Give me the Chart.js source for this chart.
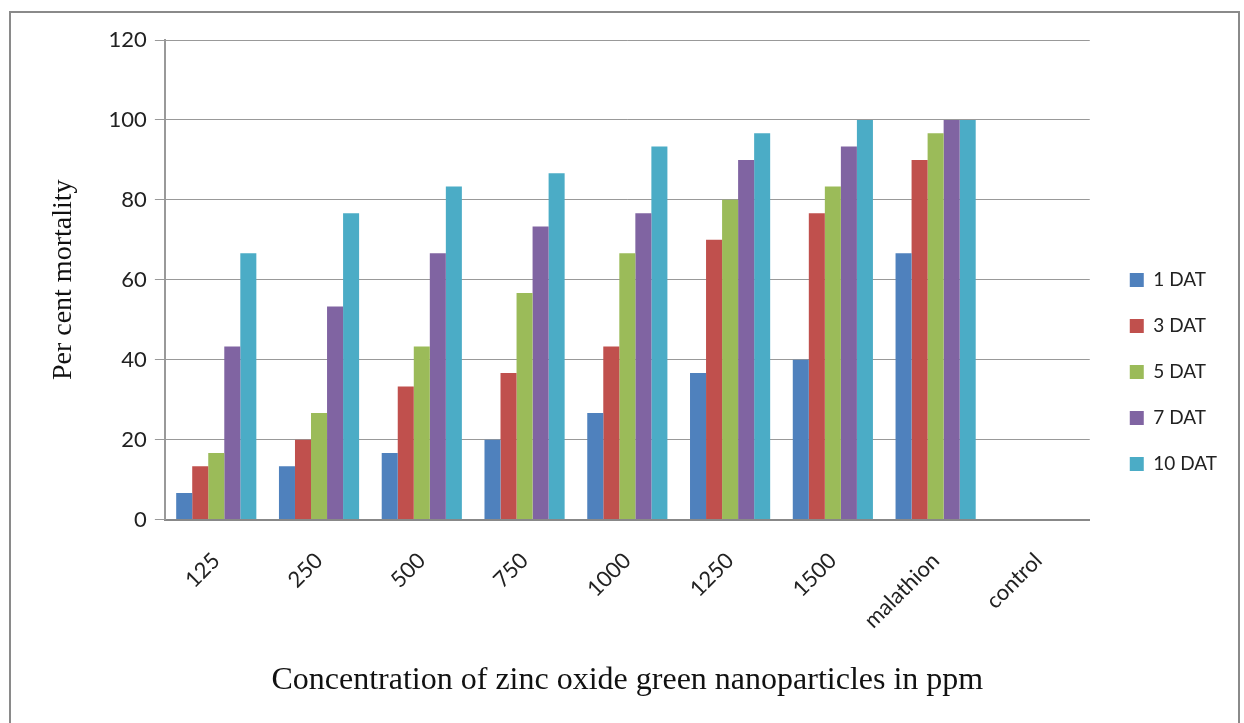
<!DOCTYPE html>
<html>
<head>
<meta charset="utf-8">
<script src="https://cdn.jsdelivr.net/npm/chart.js@4"></script>
<style>
  html, body { margin: 0; padding: 0; background: #fff; }
  #wrap { position: absolute; left: 0; top: 0; width: 1244px; height: 723px; }
</style>
</head>
<body>
<div id="wrap"><canvas id="mortality" width="1244" height="723"></canvas></div>
<script>
const concentrations = ["125", "250", "500", "750", "1000", "1250", "1500", "malathion", "control"];
const dat1 = [6.67, 13.33, 16.67, 20, 26.67, 36.67, 40, 66.67, 0];
const dat3 = [13.33, 20, 33.33, 36.67, 43.33, 70, 76.67, 90, 0];
const dat5 = [16.67, 26.67, 43.33, 56.67, 66.67, 80, 83.33, 96.67, 0];
const dat7 = [43.33, 53.33, 66.67, 73.33, 76.67, 90, 93.33, 100, 0];
const dat10 = [66.67, 76.67, 83.33, 86.67, 93.33, 96.67, 100, 100, 0];

const seriesNames = ["1 DAT", "3 DAT", "5 DAT", "7 DAT", "10 DAT"];
const seriesColors = ["#4F81BD", "#C0504D", "#9BBB59", "#8064A2", "#4BACC6"];

// grey outer frame like the pasted office chart
const frame = {
  id: "frame",
  afterDraw(chart) {
    const c = chart.ctx;
    c.save();
    c.strokeStyle = "#8a8a8a";
    c.lineWidth = 2;
    c.strokeRect(10, 12, 1229, 730);
    c.restore();
  },
};

const ctx = document.getElementById("mortality");

new Chart(ctx, {
  type: "bar",
  data: {
    labels: concentrations,
    datasets: [dat1, dat3, dat5, dat7, dat10].map((d, i) => ({
      label: seriesNames[i],
      data: d,
      backgroundColor: seriesColors[i],
      borderWidth: 0,
      categoryPercentage: 0.78,
      barPercentage: 1,
    })),
  },
  options: {
    responsive: false,
    animation: false,
    layout: { padding: { left: 43, top: 40, right: 17, bottom: 19 } },
    plugins: {
      tooltip: { enabled: false },
      legend: {
        position: "right",
        labels: {
          boxWidth: 14,
          boxHeight: 14,
          padding: 27,
          color: "#222",
          font: { family: "Lato", size: 19 },
        },
      },
    },
    scales: {
      x: {
        grid: { display: false, drawTicks: false },
        border: { color: "#888", width: 2 },
        ticks: {
          minRotation: 45,
          maxRotation: 45,
          padding: 28,
          color: "#222",
          font: { family: "Lato", size: 22 },
        },
        title: {
          display: true,
          text: "Concentration of zinc oxide green nanoparticles in ppm",
          color: "#111",
          font: { family: "Liberation Serif", size: 32 },
          padding: { top: 0 },
        },
      },
      y: {
        min: 0,
        max: 120,
        ticks: {
          stepSize: 20,
          padding: 8,
          color: "#222",
          font: { family: "Lato", size: 22 },
        },
        grid: { color: "#999", tickLength: 10, lineWidth: 1 },
        border: { color: "#999", width: 2 },
        title: {
          display: true,
          text: "Per cent mortality",
          color: "#111",
          font: { family: "Liberation Serif", size: 28 },
          padding: { bottom: 20 },
        },
      },
      // empty spacer between plot and legend
      gap: {
        position: "right",
        grid: { display: false, drawTicks: false },
        border: { display: false },
        ticks: { display: false },
        afterFit: (scale) => { scale.width = 13; },
      },
    },
  },
  plugins: [frame],
});
</script>
</body>
</html>
